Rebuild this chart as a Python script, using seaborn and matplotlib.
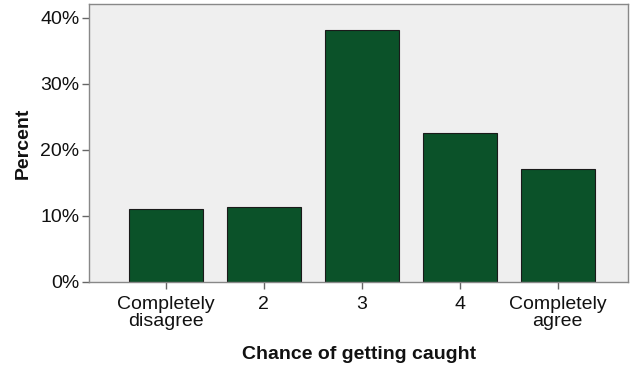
import matplotlib
matplotlib.use("Agg")
import matplotlib.pyplot as plt
import pandas as pd
import seaborn as sns
from matplotlib.ticker import PercentFormatter

categories = ["Completely\ndisagree", "2", "3", "4", "Completely\nagree"]
percent = [11.1, 11.4, 38.2, 22.5, 17.1]

df = pd.DataFrame({"answer": categories, "percent": percent})

sns.set_style("white")
plt.rcParams["font.family"] = ["Liberation Sans", "DejaVu Sans"]

fig = plt.figure(figsize=(6.32, 3.69), dpi=100)
ax = fig.add_axes([0.141, 0.236, 0.853, 0.753])
ax.set_facecolor("#efefef")

sns.barplot(data=df, x="answer", y="percent", color="#0b5229",
            saturation=1, width=0.755, edgecolor="#1a1a1a", linewidth=0.8,
            ax=ax)

ax.set_xlim(-0.78, 4.72)
ax.set_ylim(0, 42.1)
ax.set_yticks([0, 10, 20, 30, 40])
ax.yaxis.set_major_formatter(PercentFormatter(decimals=0))

for s in ax.spines.values():
    s.set_color("#888888")
    s.set_linewidth(1.0)

ax.tick_params(axis="both", direction="out", length=5, width=1,
               color="#666666", labelsize=14, labelcolor="#111111",
               bottom=True, left=True)
ax.tick_params(axis="y", pad=2)
ax.tick_params(axis="x", pad=5)
for lbl in ax.get_xticklabels():
    lbl.set_linespacing(1.05)

ax.set_xlabel("Chance of getting caught", fontsize=14, fontweight="bold",
              labelpad=11, color="#111111")
ax.set_ylabel("Percent", fontsize=14, fontweight="bold", labelpad=6,
              color="#111111")

fig.savefig("out.png", dpi=100, facecolor="white")
